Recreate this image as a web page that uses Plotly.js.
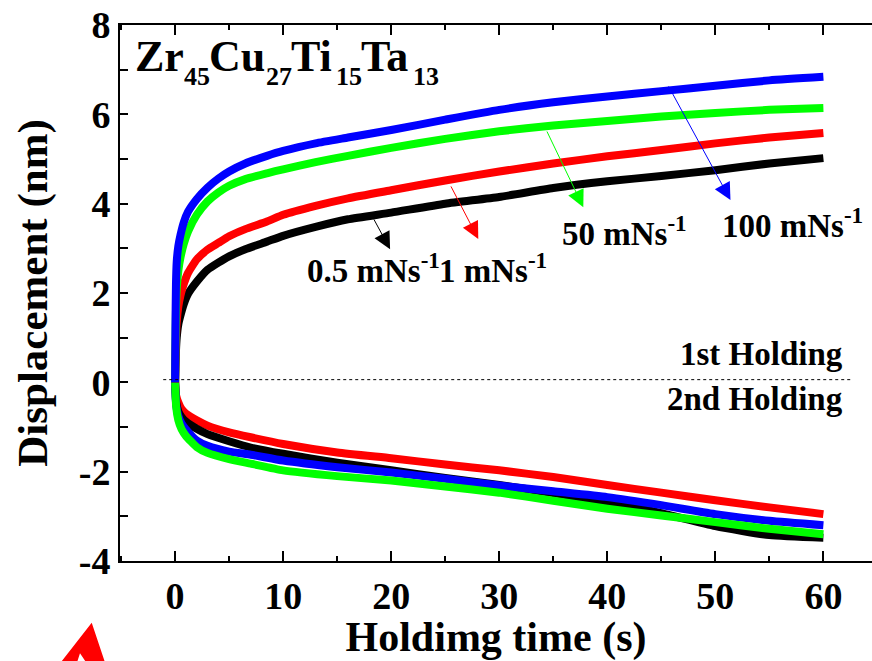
<!DOCTYPE html>
<html>
<head>
<meta charset="utf-8">
<script src="https://cdn.plot.ly/plotly-3.0.1.min.js"></script>
<style>html,body{margin:0;padding:0;background:#fff;}#chart{width:872px;height:661px;}</style>
</head>
<body>
<div id="chart"></div>
<script>
// ---- data ----
var tLoad = [0, 0.03, 0.08, 0.15, 0.3, 0.5, 0.8, 1.2, 2, 3, 4, 5, 6.5, 8.5, 10, 13, 16, 20, 25, 30, 35, 40, 45, 50, 55, 60];
var load100 = [0, 1.2, 2.2, 2.7, 3.05, 3.3, 3.58, 3.82, 4.1, 4.36, 4.56, 4.72, 4.9, 5.07, 5.18, 5.35, 5.48, 5.65, 5.88, 6.1, 6.27, 6.4, 6.52, 6.64, 6.76, 6.84];
var load50  = [0, 0.8, 1.6, 2.1, 2.5, 2.8, 3.1, 3.38, 3.75, 4.05, 4.25, 4.4, 4.55, 4.68, 4.77, 4.93, 5.07, 5.25, 5.45, 5.62, 5.75, 5.85, 5.95, 6.03, 6.1, 6.14];
var load1   = [0, 0.5, 1.0, 1.35, 1.7, 1.95, 2.2, 2.45, 2.75, 2.97, 3.12, 3.27, 3.43, 3.6, 3.75, 3.95, 4.12, 4.3, 4.52, 4.72, 4.9, 5.06, 5.2, 5.35, 5.48, 5.58];
var load05  = [0, 0.3, 0.7, 1.0, 1.3, 1.5, 1.75, 1.98, 2.25, 2.52, 2.68, 2.82, 2.98, 3.15, 3.28, 3.48, 3.65, 3.8, 4.0, 4.15, 4.35, 4.5, 4.62, 4.75, 4.9, 5.02];

var tHold = [0, 0.1, 0.3, 0.6, 1, 2, 3, 5, 7, 10, 15, 20, 25, 30, 35, 40, 45, 50, 55, 60];
var hold1   = [0, -0.3, -0.45, -0.6, -0.7, -0.85, -0.97, -1.12, -1.23, -1.38, -1.57, -1.70, -1.84, -1.97, -2.12, -2.30, -2.47, -2.64, -2.80, -2.95];
var hold05  = [0, -0.45, -0.65, -0.78, -0.88, -1.04, -1.16, -1.32, -1.46, -1.60, -1.80, -1.97, -2.14, -2.30, -2.48, -2.68, -2.93, -3.22, -3.42, -3.48];
var hold100 = [0, -0.5, -0.75, -0.92, -1.05, -1.30, -1.42, -1.55, -1.62, -1.75, -1.90, -2.02, -2.16, -2.31, -2.44, -2.57, -2.75, -2.95, -3.10, -3.20];
var hold50  = [0, -0.55, -0.85, -1.05, -1.2, -1.45, -1.58, -1.72, -1.82, -1.97, -2.10, -2.20, -2.33, -2.47, -2.65, -2.83, -2.98, -3.13, -3.28, -3.40];

var rateLabels = ["0.5 mNs<sup>-1</sup>", "1 mNs<sup>-1</sup>", "50 mNs<sup>-1</sup>", "100 mNs<sup>-1</sup>"];
var alloyElements = ["Zr", "Cu", "Ti", "Ta"];
var alloyFractions = ["45", "27", "15", "13"];
var xTicks = [0, 10, 20, 30, 40, 50, 60];
var yTicks = [-4, -2, 0, 2, 4, 6, 8];
var dividerY = 0.06;
var dividerX = [-1.1, 62.5];

// ---- styling ----
var FONT = "Liberation Serif, Times New Roman, serif";
var LW = 8;
function tr(x, y, c) {
  return {x: x, y: y, type: "scatter", mode: "lines", line: {color: c, width: LW, shape: "spline", smoothing: 0.5}, showlegend: false, hoverinfo: "skip"};
}
var data = [
  tr(tHold, hold1, "#ff0000"),
  tr(tHold, hold05, "#000000"),
  tr(tHold, hold100, "#0000ff"),
  tr(tHold, hold50, "#00ff00"),
  tr(tLoad, load05, "#000000"),
  tr(tLoad, load1, "#ff0000"),
  tr(tLoad, load50, "#00ff00"),
  tr(tLoad, load100, "#0000ff"),
  {x: dividerX, y: [dividerY, dividerY], type: "scatter", mode: "lines", line: {color: "#000", width: 1, dash: "dot"}, showlegend: false, hoverinfo: "skip"}
];

function lab(text, x, y, xa, size) {
  return {text: text, x: x, y: y, xref: "x", yref: "y", xanchor: xa, yanchor: "middle", showarrow: false,
          font: {family: FONT, size: size || 33, color: "#000", weight: "bold"}};
}
function plab(text, px, py, size) {
  // px, py: pixel position in the figure (left edge, vertical middle)
  return {text: text, x: (px - 120) / 752, y: (561 - py) / 536, xref: "paper", yref: "paper",
          xanchor: "left", yanchor: "middle", showarrow: false,
          font: {family: FONT, size: size, color: "#000", weight: "bold"}};
}
function arr(x, y, ax, ay, c) {
  return {x: x, y: y, ax: ax, ay: ay, xref: "x", yref: "y", axref: "x", ayref: "y", text: "", showarrow: true,
          arrowhead: 2, arrowsize: 3.4, arrowwidth: 1, arrowcolor: c, standoff: 0};
}

var elemX = [133, 207, 289, 359];
var fracX = [182, 264, 334, 411];
var ann = [];
for (var i = 0; i < alloyElements.length; i++) {
  ann.push(plab(alloyElements[i], elemX[i], 57, 44));
  ann.push(plab(alloyFractions[i], fracX[i], 77, 26));
}

ann = ann.concat([
  arr(19.9, 2.98, 18.33, 3.68, "#000000"),
  arr(28.06, 3.21, 25.46, 4.42, "#ff0000"),
  arr(37.78, 3.92, 34.35, 5.65, "#00ff00"),
  arr(51.4, 4.08, 45.6, 6.66, "#0000ff"),
  lab(rateLabels[0], 12.04, 2.55, "left"),
  lab(rateLabels[1], 24.26, 2.55, "left"),
  lab(rateLabels[2], 35.65, 3.38, "left"),
  lab(rateLabels[3], 50.46, 3.56, "left"),
  lab("1st Holding", 62.0, 0.63, "right"),
  lab("2nd Holding", 62.0, -0.38, "right")
]);

var layout = {
  width: 872, height: 661,
  margin: {l: 120, r: 0, t: 25, b: 100, pad: 0},
  paper_bgcolor: "#fff", plot_bgcolor: "#fff",
  font: {family: FONT, color: "#000"},
  xaxis: {
    range: [-5.1, 64.5], tickvals: xTicks, ticktext: xTicks.map(String),
    ticks: "inside", ticklen: 10, tickwidth: 2, tickcolor: "#000",
    minor: {dtick: 5, tick0: 0, ticks: "inside", ticklen: 5, tickwidth: 2, tickcolor: "#000"},
    showline: true, linewidth: 2, linecolor: "#000", mirror: "ticks",
    showgrid: false, zeroline: false,
    tickfont: {family: FONT, size: 38, weight: "bold"},
    title: {text: "Holdimg time (s)", font: {family: FONT, size: 42, weight: "bold"}, standoff: 4}
  },
  yaxis: {
    range: [-4, 8], tickvals: yTicks, ticktext: yTicks.map(String),
    ticks: "inside", ticklen: 8, tickwidth: 2, tickcolor: "#000",
    minor: {dtick: 1, tick0: 0, ticks: "inside", ticklen: 8, tickwidth: 2, tickcolor: "#000"},
    showline: true, linewidth: 2, linecolor: "#000",
    showgrid: false, zeroline: false,
    tickfont: {family: FONT, size: 38, weight: "bold"},
    title: {text: "Displacement (nm)", font: {family: FONT, size: 43, weight: "bold"}, standoff: 18}
  },
  annotations: ann,
  shapes: [
    {type: "path", xref: "paper", yref: "paper", fillcolor: "#ff0000", line: {width: 0},
     path: "M -0.0376 -0.1151 L -0.0186 -0.195 L -0.0422 -0.195 L -0.0532 -0.1722 L -0.0585 -0.195 L -0.0820 -0.195 Z"}
  ]
};

Plotly.newPlot("chart", data, layout, {displayModeBar: false, staticPlot: true});
</script>
</body>
</html>
